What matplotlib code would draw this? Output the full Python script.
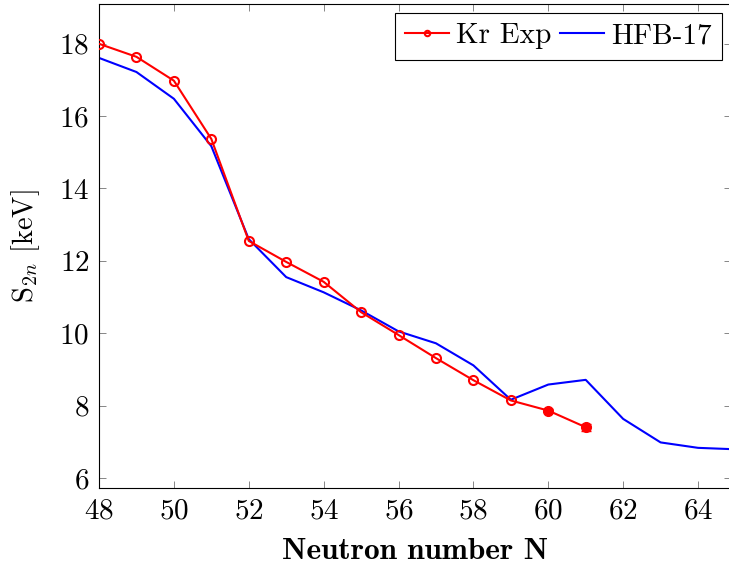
import matplotlib
matplotlib.use('Agg')
import matplotlib.pyplot as plt

plt.rcParams['font.family'] = 'cmr10'
plt.rcParams['mathtext.fontset'] = 'cm'
plt.rcParams['axes.formatter.use_mathtext'] = True
plt.rcParams['axes.unicode_minus'] = False

# --- data ---
n_exp = [48, 49, 50, 51, 52, 53, 54, 55, 56, 57, 58, 59, 60, 61]
s2n_exp = [18.00, 17.64, 16.98, 15.37, 12.55, 11.97, 11.42, 10.58,
           9.95, 9.31, 8.70, 8.14, 7.86, 7.40]
# last two points are extrapolated values with error bars
n_extra = [60, 61]
s2n_extra = [7.86, 7.40]
err_extra = [0.05, 0.10]

n_hfb = [48, 49, 50, 51, 52, 53, 54, 55, 56, 57, 58, 59, 60, 61, 62, 63, 64, 65]
s2n_hfb = [17.61, 17.22, 16.48, 15.17, 12.60, 11.55, 11.13, 10.63, 10.05,
           9.72, 9.11, 8.16, 8.58, 8.71, 7.63, 6.98, 6.83, 6.79]

fig = plt.figure(figsize=(7.29, 5.65), dpi=100)
# axes runs slightly past the right edge, as in the reference
ax = fig.add_axes([99 / 729, 77 / 565, 632 / 729, 484 / 565])

red = '#ff0000'
blue = '#0000ff'

ax.plot(n_exp, s2n_exp, color=red, lw=1.5, marker='o', markersize=6.5,
        markerfacecolor='none', markeredgewidth=1.5, markevery=list(range(12)),
        label='Kr Exp', zorder=3)
ax.errorbar(n_extra, s2n_extra, yerr=err_extra, fmt='o', color=red,
            markersize=7, capsize=3.5, elinewidth=1.2, zorder=4)
ax.plot(n_hfb, s2n_hfb, color=blue, lw=1.5, label='HFB-17', zorder=2)

ax.set_xlim(48, 64.88)
ax.set_ylim(5.72, 19.1)
ax.set_xticks(range(48, 65, 2))
ax.set_yticks(range(6, 19, 2))

ax.tick_params(direction='in', top=True, right=True, length=5, width=0.6,
               color='0.45', labelsize=21, pad=7)
for sp in ax.spines.values():
    sp.set_linewidth(0.8)

ax.set_xlabel('Neutron number N', fontsize=22.5, family='cmb10', labelpad=10)
ax.set_ylabel(r'S$_{2n}$ [keV]', fontsize=20.5, labelpad=12)

leg = ax.legend(loc='upper right', ncol=2, fontsize=21, frameon=True,
                fancybox=False, edgecolor='black', framealpha=1,
                handlelength=1.5, columnspacing=0.3, handletextpad=0.25,
                borderaxespad=0.3, borderpad=0.35, markerscale=0.6)
leg.get_frame().set_linewidth(0.8)

fig.savefig('out.png', dpi=100)
